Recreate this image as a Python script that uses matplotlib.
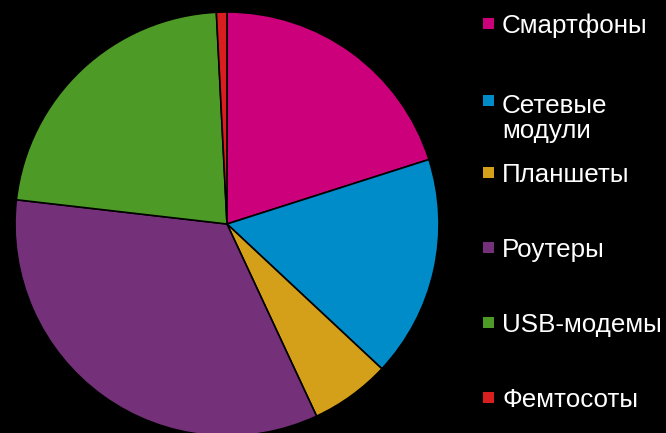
import matplotlib
matplotlib.use("Agg")
import matplotlib.pyplot as plt
from matplotlib.patches import Rectangle

categories = ["Смартфоны", "Сетевые\nмодули", "Планшеты", "Роутеры", "USB-модемы", "Фемтосоты"]
shares = [20.1, 16.9, 6.1, 33.8, 22.4, 0.8]
colors = ["#CC007A", "#008BC9", "#D4A01A", "#74317A", "#4E9A26", "#D81E1E"]

W, H = 666, 433
fig = plt.figure(figsize=(W / 100, H / 100), dpi=100, facecolor="black")
ax = fig.add_axes([0, 0, 1, 1])
ax.set_facecolor("black")

ax.pie(shares, colors=colors, startangle=90, counterclock=False,
       center=(227, H - 224), radius=212, frame=True,
       wedgeprops=dict(edgecolor="black", linewidth=1.2))
ax.set_xlim(0, W)
ax.set_ylim(0, H)
ax.set_aspect("equal")
ax.axis("off")

# legend (first-line baselines in pixels from top)
baselines = [33, 110, 182, 257, 332, 407]
line_step = 28
for lab, col, b in zip(categories, colors, baselines):
    n = lab.count("\n")
    ax.add_patch(Rectangle((483, H - b + 4), 11, 11, facecolor=col, edgecolor="none"))
    ax.text(502, H - (b + n * line_step), lab, color="white", fontsize=18.7,
            family="Liberation Sans", va="baseline", ha="left", linespacing=1.05)

fig.savefig("out.png", dpi=100, facecolor="black")
